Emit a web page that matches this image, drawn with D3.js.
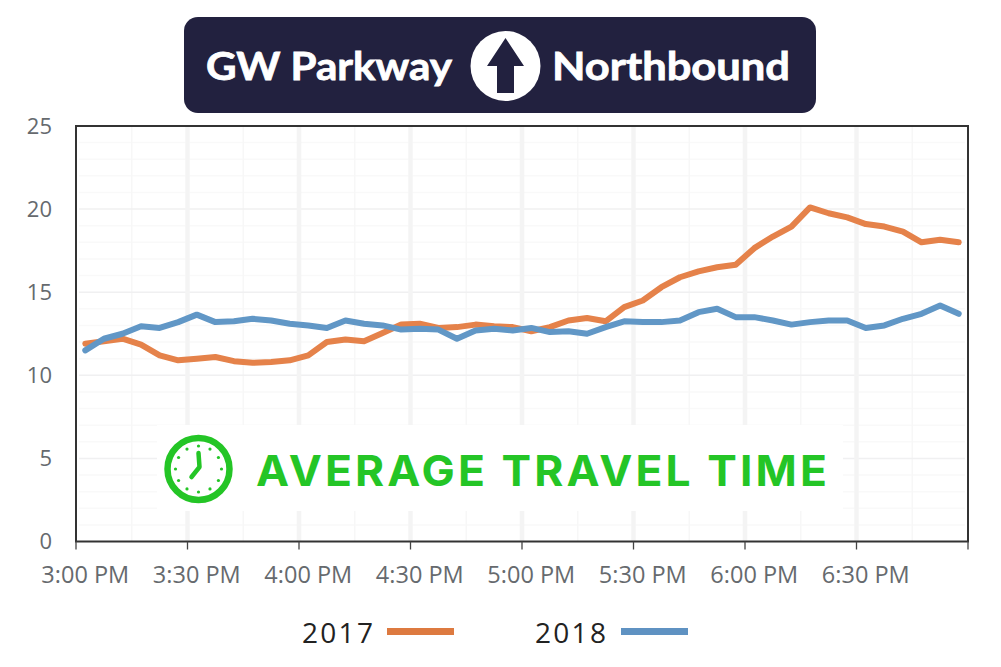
<!DOCTYPE html>
<html>
<head>
<meta charset="utf-8">
<script src="https://cdn.jsdelivr.net/npm/d3@7"></script>
<style>
html,body{margin:0;padding:0;background:#fff;}
svg{display:block;}
text{font-family:"Open Sans",sans-serif;}
</style>
</head>
<body>
<div id="chart"></div>
<script>
var times=["3:00 PM","3:05 PM","3:10 PM","3:15 PM","3:20 PM","3:25 PM","3:30 PM","3:35 PM","3:40 PM","3:45 PM","3:50 PM","3:55 PM",
    "4:00 PM","4:05 PM","4:10 PM","4:15 PM","4:20 PM","4:25 PM","4:30 PM","4:35 PM","4:40 PM","4:45 PM","4:50 PM","4:55 PM",
    "5:00 PM","5:05 PM","5:10 PM","5:15 PM","5:20 PM","5:25 PM","5:30 PM","5:35 PM","5:40 PM","5:45 PM","5:50 PM","5:55 PM",
    "6:00 PM","6:05 PM","6:10 PM","6:15 PM","6:20 PM","6:25 PM","6:30 PM","6:35 PM","6:40 PM","6:45 PM","6:50 PM","6:55 PM"];
var values2017=[11.9,12.05,12.2,11.85,11.2,10.9,11.0,11.1,10.85,10.75,10.8,10.9,
    11.2,12.0,12.15,12.05,12.55,13.05,13.1,12.85,12.9,13.05,12.95,12.9,
    12.65,12.9,13.3,13.45,13.25,14.1,14.5,15.3,15.9,16.25,16.5,16.65,
    17.65,18.35,18.95,20.1,19.75,19.5,19.1,18.95,18.65,18.0,18.15,18.0];
var values2018=[11.5,12.2,12.5,12.95,12.85,13.2,13.65,13.2,13.25,13.4,13.3,13.1,
    13.0,12.85,13.3,13.1,13.0,12.75,12.8,12.75,12.2,12.7,12.8,12.7,
    12.85,12.6,12.65,12.5,12.9,13.25,13.2,13.2,13.3,13.8,14.0,13.5,
    13.5,13.3,13.05,13.2,13.3,13.3,12.85,13.0,13.4,13.7,14.2,13.7];
var yTicks=[0,5,10,15,20,25];
var yMinor=[1,2,3,4,6,7,8,9,11,12,13,14,16,17,18,19,21,22,23,24];
var xMajor=["3:00 PM","3:30 PM","4:00 PM","4:30 PM","5:00 PM","5:30 PM","6:00 PM","6:30 PM"];
var xMinor=["3:15 PM","3:45 PM","4:15 PM","4:45 PM","5:15 PM","5:45 PM","6:15 PM","6:45 PM"];
var clockHours=[0,1,2,3,4,5,6,7,8,9,10,11];

var width=1001,height=667;
var left=76,right=968,top_=126,bottom=541.5;
var ORANGE="#e5824a",BLUE="#6197c6",GREEN="#24c526",NAVY="#22213f";

var svg=d3.select("#chart").append("svg").attr("width",width).attr("height",height);

var x=d3.scaleBand().domain(times).range([left,right]);
var y=d3.scaleLinear().domain([0,25]).range([bottom,top_]);
var half=x.bandwidth()/2;

//网格
var grid=svg.append("g");
grid.selectAll(".hm").data(yMinor).enter().append("line")
    .attr("x1",left+3).attr("x2",right-3).attr("y1",y).attr("y2",y)
    .attr("stroke","#f9f9f9").attr("stroke-width",1.5);
grid.selectAll(".vm").data(xMinor).enter().append("line")
    .attr("x1",function(d){return x(d);}).attr("x2",function(d){return x(d);})
    .attr("y1",top_).attr("y2",bottom)
    .attr("stroke","#f7f7f7").attr("stroke-width",1.5);
grid.selectAll(".h").data(yTicks.slice(1,5)).enter().append("line")
    .attr("x1",left+3).attr("x2",right-3).attr("y1",y).attr("y2",y)
    .attr("stroke","#f0f0f1").attr("stroke-width",1.5);
grid.selectAll(".v").data(xMajor.slice(1)).enter().append("line")
    .attr("x1",function(d){return x(d);}).attr("x2",function(d){return x(d);})
    .attr("y1",top_).attr("y2",bottom)
    .attr("stroke","#f4f4f4").attr("stroke-width",4.5);

//外框
svg.append("rect").attr("x",left).attr("y",top_).attr("width",right-left).attr("height",bottom-top_)
    .attr("fill","none").attr("stroke","#333").attr("stroke-width",2);

//坐标轴
var xAxis=svg.append("g").attr("transform","translate(0,"+bottom+")")
    .call(d3.axisBottom(x).tickValues(xMajor).tickSize(8).tickPadding(16.5));
xAxis.select(".domain").remove();
xAxis.selectAll("line").attr("x1",-half).attr("x2",-half).attr("stroke","#444").attr("stroke-width",1.3);
xAxis.selectAll("text").attr("font-size",23.5).attr("fill","#666a6e").attr("font-family","'Open Sans',sans-serif");
xAxis.append("line").attr("x1",x.range()[1]).attr("x2",x.range()[1]).attr("y2",8)
    .attr("stroke","#444").attr("stroke-width",1.3);

var yAxis=svg.append("g").attr("transform","translate(52,0)")
    .call(d3.axisLeft(y).tickValues(yTicks).tickSize(0).tickPadding(0));
yAxis.select(".domain").remove();
yAxis.selectAll("text").attr("font-size",22).attr("fill","#666a6e").attr("font-family","'Open Sans',sans-serif");

//折线
var line=d3.line()
    .x(function(d,i){return x(times[i])+half;})
    .y(function(d){return y(d);});
svg.append("path").datum(values2017).attr("d",line).attr("fill","none")
    .attr("stroke",ORANGE).attr("stroke-width",6).attr("stroke-linejoin","round").attr("stroke-linecap","round");
svg.append("path").datum(values2018).attr("d",line).attr("fill","none")
    .attr("stroke",BLUE).attr("stroke-width",6).attr("stroke-linejoin","round").attr("stroke-linecap","round");

//标题
var header=svg.append("g");
header.append("rect").attr("x",184).attr("y",17).attr("width",632).attr("height",96).attr("rx",14).attr("fill",NAVY);
header.append("text").attr("x",206).attr("y",80).attr("textLength",246).attr("lengthAdjust","spacingAndGlyphs")
    .attr("font-size",39).attr("font-weight",700).attr("fill","#fff").attr("stroke","#fff").attr("stroke-width",0.8)
    .style("font-family","Lato,sans-serif").text("GW Parkway");
header.append("text").attr("x",552).attr("y",80).attr("textLength",238).attr("lengthAdjust","spacingAndGlyphs")
    .attr("font-size",39).attr("font-weight",700).attr("fill","#fff").attr("stroke","#fff").attr("stroke-width",0.8)
    .style("font-family","Lato,sans-serif").text("Northbound");
header.append("circle").attr("cx",505.5).attr("cy",66).attr("r",35).attr("fill","#fff");
header.append("path").attr("fill",NAVY)
    .attr("d",d3.line()([[505.5,38],[524,66],[514,66],[514,93],[497,93],[497,66],[487,66]])+"Z");

//标注
var note=svg.append("g");
note.append("rect").attr("x",157).attr("y",425).attr("width",686).attr("height",86).attr("fill","#fff");
note.append("text").attr("x",256).attr("y",486).attr("textLength",574).attr("lengthAdjust","spacingAndGlyphs")
    .attr("font-size",42.5).attr("font-weight",700).attr("letter-spacing",3).attr("fill",GREEN).style("font-family","Inter,sans-serif").text("AVERAGE TRAVEL TIME");
var clock=note.append("g").attr("transform","translate(198.5,469)");
clock.append("circle").attr("r",31).attr("fill","none").attr("stroke",GREEN).attr("stroke-width",6.5);
clock.selectAll(".dot").data(clockHours).enter().append("circle")
    .attr("cx",function(d){return 23*Math.sin(d*Math.PI/6);})
    .attr("cy",function(d){return -23*Math.cos(d*Math.PI/6);})
    .attr("r",1.6).attr("fill",GREEN);
clock.append("path").attr("fill","none").attr("stroke",GREEN).attr("stroke-width",4.5)
    .attr("stroke-linecap","round").attr("stroke-linejoin","round")
    .attr("d",d3.line()([[0,-16],[1,-2],[-7,8]]));

//图例
var legend=svg.append("g");
legend.append("text").attr("x",302).attr("y",643).attr("font-size",28).attr("letter-spacing",2.3).attr("fill","#222").text("2017");
legend.append("rect").attr("x",387).attr("y",628).attr("width",67).attr("height",7).attr("fill","#dd7a40");
legend.append("text").attr("x",535).attr("y",643).attr("font-size",28).attr("letter-spacing",2.3).attr("fill","#222").text("2018");
legend.append("rect").attr("x",621).attr("y",628).attr("width",67).attr("height",7).attr("fill","#5f92c2");
</script>
</body>
</html>
